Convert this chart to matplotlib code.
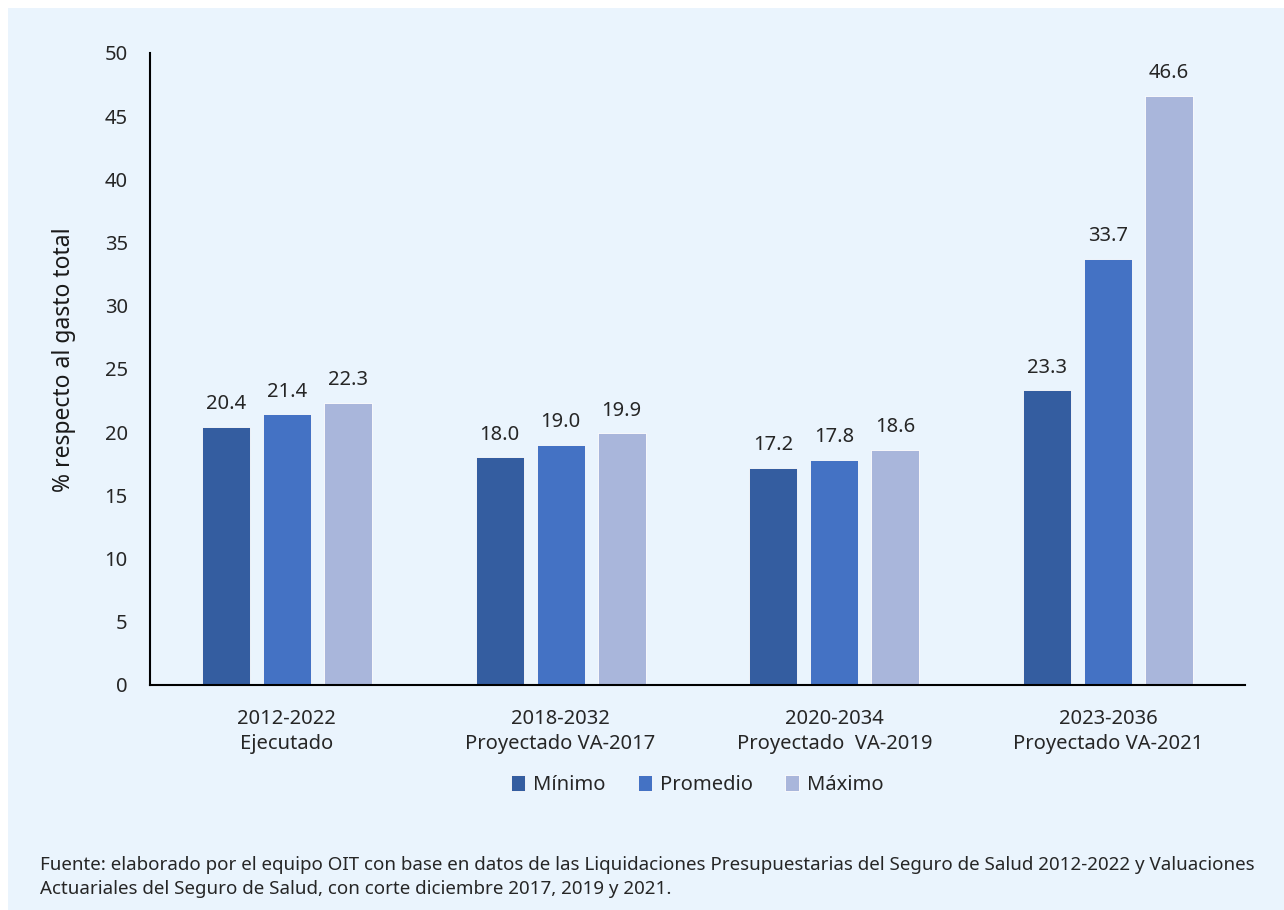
import numpy as np
import matplotlib.pyplot as plt
from matplotlib.patches import Rectangle

plt.rcParams['font.family'] = ['Noto Sans', 'DejaVu Sans']

categorias = ['2012-2022\nEjecutado', '2018-2032\nProyectado VA-2017',
              '2020-2034\nProyectado  VA-2019', '2023-2036\nProyectado VA-2021']
minimo = [20.4, 18.0, 17.2, 23.3]
promedio = [21.4, 19.0, 17.8, 33.7]
maximo = [22.3, 19.9, 18.6, 46.6]
series = ['Mínimo', 'Promedio', 'Máximo']
colores = ['#345DA0', '#4472C4', '#A9B6DB']
fuente = ('Fuente: elaborado por el equipo OIT con base en datos de las Liquidaciones Presupuestarias '
          'del Seguro de Salud 2012-2022 y Valuaciones\nActuariales del Seguro de Salud, con corte '
          'diciembre 2017, 2019 y 2021.')

bg = '#EAF4FD'
fig = plt.figure(figsize=(12.84, 9.10), dpi=100, facecolor='white')
fig.patches.append(Rectangle((8/1284, 0), 1 - 8/1284, 1 - 8/910, transform=fig.transFigure,
                             facecolor=bg, edgecolor='none', zorder=-10))
ax = fig.add_axes([0.1168, 0.2473, 0.8528, 0.6945])
ax.set_facecolor(bg)

x = np.arange(len(categorias))
w = 0.175
d = 0.223
for i, (vals, nom, col) in enumerate(zip([minimo, promedio, maximo], series, colores)):
    bars = ax.bar(x + (i - 1) * d, vals, w, color=col, label=nom, edgecolor='white', linewidth=0.6)
    for b, v in zip(bars, vals):
        ax.text(b.get_x() + b.get_width() / 2, v + 1.0, f'{v:.1f}', ha='center', va='bottom',
                fontsize=14.5, color='#262626')

ax.set_xlim(-0.5, 3.5)
ax.set_ylim(0, 50)
ax.set_yticks(range(0, 51, 5))
ax.set_xticks(x)
ax.set_xticklabels(categorias, fontsize=14.5, color='#262626', linespacing=1.35)
ax.tick_params(axis='both', length=0, labelsize=14.5, colors='#262626')
ax.tick_params(axis='x', pad=17)
ax.tick_params(axis='y', pad=16)
for s in ['top', 'right']:
    ax.spines[s].set_visible(False)
for s in ['left', 'bottom']:
    ax.spines[s].set_color('black')
    ax.spines[s].set_linewidth(1.5)
ax.set_ylabel('% respecto al gasto total', fontsize=16.5, color='#1a1a1a',
              fontweight='semibold')
ax.yaxis.set_label_coords(-0.068, 0.515)

ax.legend(loc='center', bbox_to_anchor=(0.5, -0.158), ncol=3, frameon=False, fontsize=14.5,
          handlelength=0.7, handleheight=0.9, handletextpad=0.4, columnspacing=1.6,
          labelcolor='#262626')

fig.text(40/1284, 1 - 898/910, fuente, fontsize=13.5, color='#262626', ha='left', va='bottom',
         linespacing=1.4)

fig.savefig('out.png', dpi=100, facecolor='white')
